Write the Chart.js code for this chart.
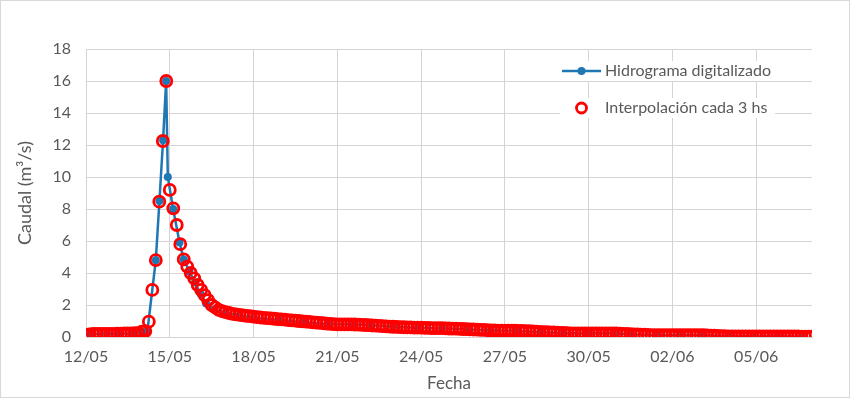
<!DOCTYPE html>
<html>
<head>
<meta charset="utf-8">
<script src="https://cdn.jsdelivr.net/npm/chart.js@4"></script>
<style>
  html, body { margin: 0; padding: 0; background: #fff; }
  #wrap { width: 850px; height: 398px; position: relative; }
</style>
</head>
<body>
<div id="wrap"><canvas id="hidrograma"></canvas></div>
<script>
// Eje X: días desde el 12/05
const tickDays = [0, 3, 6, 9, 12, 15, 18, 21, 24];
const tickLabels = ['12/05', '15/05', '18/05', '21/05', '24/05', '27/05', '30/05', '02/06', '05/06'];
const xMaxDays = 26;

// Hidrograma digitalizado (día, caudal m3/s)
const digitDays = [0.15, 0.75, 1.22, 1.7, 2.0, 2.2, 2.5, 2.63, 2.76, 2.87, 2.93, 3.12, 3.35, 3.5, 3.7, 3.9,
    4.1, 4.3, 4.6, 5.0, 5.5, 6.0, 6.9, 7.8, 8.7, 9.6, 10.2, 11.0, 11.9, 12.75, 13.65, 14.5, 15.4, 16.3,
    17.1, 18.0, 18.9, 19.5, 20.4, 21.3, 22.1, 23.0, 23.9, 24.75, 25.65];
const digitFlow = [0.2, 0.2, 0.22, 0.24, 0.33, 0.38, 4.8, 8.5, 12.3, 16.0, 10.0, 8.0, 5.9, 4.85, 4.1, 3.4,
    2.7, 2.1, 1.7, 1.5, 1.35, 1.2, 1.06, 0.92, 0.79, 0.79, 0.75, 0.64, 0.58, 0.54, 0.48, 0.4, 0.38, 0.29,
    0.23, 0.23, 0.23, 0.17, 0.12, 0.12, 0.12, 0.04, 0.04, 0.04, 0.02];

// Interpolación cada 3 hs (una fila por día)
const interpStepDays = 0.125;
const interpFlow = [
    0.1, 0.17, 0.19, 0.2, 0.2, 0.2, 0.2, 0.2,
    0.2, 0.21, 0.21, 0.22, 0.22, 0.23, 0.24, 0.24,
    0.33, 0.37, 0.96, 2.94, 4.8, 8.46, 12.25, 16.0,
    9.19, 8.04, 7.0, 5.8, 4.85, 4.4, 4.0, 3.67,
    3.25, 2.94, 2.62, 2.3, 2.0, 1.85, 1.7, 1.62,
    1.55, 1.5, 1.45, 1.42, 1.38, 1.35, 1.32, 1.3,
    1.27, 1.24, 1.22, 1.2, 1.18, 1.16, 1.14, 1.12,
    1.1, 1.08, 1.06, 1.04, 1.02, 1.0, 0.98, 0.96,
    0.94, 0.92, 0.9, 0.88, 0.86, 0.84, 0.82, 0.8,
    0.79, 0.79, 0.79, 0.79, 0.79, 0.78, 0.77, 0.76,
    0.75, 0.74, 0.72, 0.71, 0.69, 0.68, 0.66, 0.65,
    0.64, 0.63, 0.62, 0.61, 0.6, 0.6, 0.59, 0.58,
    0.58, 0.57, 0.57, 0.56, 0.56, 0.55, 0.55, 0.54,
    0.53, 0.52, 0.52, 0.51, 0.5, 0.49, 0.48, 0.47,
    0.46, 0.45, 0.44, 0.43, 0.42, 0.41, 0.4, 0.4,
    0.4, 0.39, 0.39, 0.39, 0.38, 0.38, 0.37, 0.36,
    0.35, 0.34, 0.32, 0.31, 0.3, 0.29, 0.28, 0.27,
    0.26, 0.25, 0.24, 0.23, 0.23, 0.23, 0.23, 0.23,
    0.23, 0.23, 0.23, 0.23, 0.23, 0.23, 0.23, 0.23,
    0.22, 0.21, 0.2, 0.19, 0.18, 0.17, 0.16, 0.15,
    0.14, 0.13, 0.12, 0.12, 0.12, 0.12, 0.12, 0.12,
    0.12, 0.12, 0.12, 0.12, 0.12, 0.12, 0.12, 0.12,
    0.12, 0.11, 0.1, 0.09, 0.08, 0.07, 0.06, 0.05,
    0.04, 0.04, 0.04, 0.04, 0.04, 0.04, 0.04, 0.04,
    0.04, 0.04, 0.04, 0.04, 0.04, 0.04, 0.04, 0.04,
    0.04, 0.04, 0.03, 0.03, 0.03, 0.02, 0.02, 0.02,
    0.02
];

const BLUE = '#1f77b4';
const RED = '#ff0000';
const TEXT = '#595959';
const GRID = '#d9d2d5';
const FONT = 'Lato, "Open Sans", sans-serif';

const digitPoints = digitDays.map((d, i) => ({ x: d, y: digitFlow[i] }));
const interpPoints = interpFlow.map((v, i) => ({ x: i * interpStepDays, y: v }));

// Leyenda dentro del área del gráfico y borde exterior
const legendInside = {
    id: 'legendInside',
    afterDraw(chart) {
        const { ctx, chartArea } = chart;
        const x0 = chartArea.right - 250;
        const y1 = chartArea.top + 22;
        const y2 = y1 + 37;
        ctx.save();
        ctx.fillStyle = '#fff';
        ctx.fillRect(x0 - 2, y1 - 10, 215, 20);
        ctx.fillRect(x0 - 2, y2 - 10, 215, 20);

        ctx.strokeStyle = BLUE;
        ctx.lineWidth = 2.5;
        ctx.beginPath();
        ctx.moveTo(x0, y1);
        ctx.lineTo(x0 + 39, y1);
        ctx.stroke();
        ctx.fillStyle = BLUE;
        ctx.beginPath();
        ctx.arc(x0 + 19.5, y1, 4, 0, Math.PI * 2);
        ctx.fill();

        ctx.strokeStyle = RED;
        ctx.lineWidth = 2.8;
        ctx.beginPath();
        ctx.arc(x0 + 19.5, y2, 5, 0, Math.PI * 2);
        ctx.stroke();

        ctx.fillStyle = TEXT;
        ctx.font = '16px ' + FONT;
        ctx.textBaseline = 'middle';
        ctx.fillText('Hidrograma digitalizado', x0 + 43, y1);
        ctx.fillText('Interpolación cada 3 hs', x0 + 43, y2);

        ctx.strokeStyle = '#d9d9d9';
        ctx.lineWidth = 1;
        ctx.strokeRect(0.5, 0.5, chart.width - 1, chart.height - 1);
        ctx.restore();
    }
};

new Chart(document.getElementById('hidrograma'), {
    type: 'scatter',
    data: {
        datasets: [{
            label: 'Hidrograma digitalizado',
            data: digitPoints,
            showLine: true,
            borderColor: BLUE,
            backgroundColor: BLUE,
            borderWidth: 2.5,
            pointRadius: 4,
            pointBorderWidth: 0,
            order: 2
        }, {
            label: 'Interpolación cada 3 hs',
            data: interpPoints,
            showLine: false,
            borderColor: RED,
            backgroundColor: 'rgba(0,0,0,0)',
            pointRadius: 5.5,
            pointBorderWidth: 2.8,
            order: 1
        }]
    },
    options: {
        responsive: true,
        maintainAspectRatio: false,
        animation: false,
        layout: { padding: { left: 0, right: 38, top: 49, bottom: 0 } },
        plugins: {
            legend: { display: false },
            tooltip: { enabled: false }
        },
        scales: {
            x: {
                type: 'linear',
                min: 0,
                max: xMaxDays,
                afterBuildTicks(scale) {
                    scale.ticks = tickDays.map(v => ({ value: v }));
                },
                afterFit(scale) { scale.height = 61; },
                grid: { color: GRID, drawTicks: false },
                border: { color: GRID },
                ticks: {
                    color: TEXT,
                    font: { family: FONT, size: 16 },
                    padding: 10,
                    maxRotation: 0,
                    callback: (v) => {
                        const i = tickDays.indexOf(v);
                        return i >= 0 ? tickLabels[i] : '';
                    }
                },
                title: {
                    display: true,
                    text: 'Fecha',
                    color: TEXT,
                    font: { family: FONT, size: 17 },
                    padding: { top: 3 }
                }
            },
            y: {
                min: 0,
                max: 18,
                afterFit(scale) { scale.width = 86; },
                grid: { color: GRID, drawTicks: false },
                border: { color: GRID },
                ticks: {
                    stepSize: 2,
                    color: TEXT,
                    font: { family: FONT, size: 16 },
                    padding: 15
                },
                title: {
                    display: true,
                    text: 'Caudal (m³/s)',
                    color: TEXT,
                    font: { family: FONT, size: 18 },
                    padding: { top: 14, bottom: 0 }
                }
            }
        }
    },
    plugins: [legendInside]
});
</script>
</body>
</html>
